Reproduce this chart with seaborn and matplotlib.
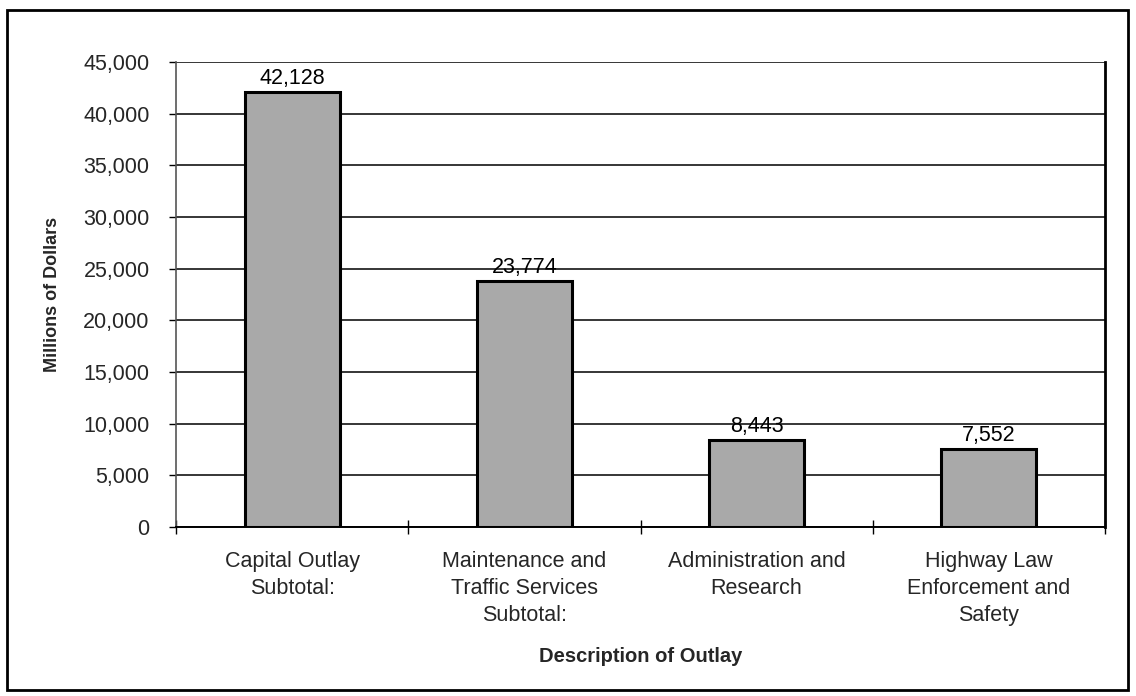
"""Highway outlay bar chart: four categories, millions of dollars."""

import matplotlib.pyplot as plt
from matplotlib.patches import Rectangle
from matplotlib.ticker import FuncFormatter, MultipleLocator
import pandas as pd
import seaborn as sns

# ── Data ─────────────────────────────────────────────────────────────
categorias = [
    "Capital Outlay\nSubtotal:",
    "Maintenance and\nTraffic Services\nSubtotal:",
    "Administration and\nResearch",
    "Highway Law\nEnforcement and\nSafety",
]
valores = [42128, 23774, 8443, 7552]
y_ticks = [0, 5000, 10000, 15000, 20000, 25000, 30000, 35000, 40000, 45000]

# ── Styling ──────────────────────────────────────────────────────────
_GRIS_BARRA = "#a9a9a9"
_LW_BARRA = 2.2
_LW_GRID = 1.1
_FS_TEXTO = 15.5

sns.set_theme(style="white")
plt.rcParams["font.family"] = ["Liberation Sans", "DejaVu Sans"]

df = pd.DataFrame({"categoria": categorias, "valor": valores})

fig = plt.figure(figsize=(11.36, 6.96), dpi=100)
ax = fig.add_axes([176 / 1136, 1 - 527 / 696, (1105 - 176) / 1136, (527 - 62) / 696])

sns.barplot(
    data=df,
    x="categoria",
    y="valor",
    color=_GRIS_BARRA,
    saturation=1,
    edgecolor="black",
    linewidth=_LW_BARRA,
    width=0.41,
    ax=ax,
    zorder=3,
)

# etiquetas de valor sobre cada barra
for bar, v in zip(ax.patches, valores):
    ax.text(
        bar.get_x() + bar.get_width() / 2,
        v + 300,
        f"{v:,}",
        ha="center",
        va="bottom",
        fontsize=_FS_TEXTO,
        color="black",
        zorder=4,
    )

ax.set_xlim(-0.5, len(categorias) - 0.5)
ax.set_ylim(0, y_ticks[-1])
ax.set_yticks(y_ticks)
ax.yaxis.set_major_formatter(FuncFormatter(lambda v, _: f"{int(v):,}"))
ax.yaxis.grid(True, color="black", linewidth=_LW_GRID, zorder=0)
ax.xaxis.grid(False)
ax.set_axisbelow(True)

# marcas de x entre categorías, cruzando el eje
ax.xaxis.set_minor_locator(MultipleLocator(1, offset=0.5))
ax.tick_params(axis="x", which="major", length=0, pad=17, labelsize=_FS_TEXTO)
ax.tick_params(axis="x", which="minor", direction="inout", length=10, width=1, color="black", bottom=True)
ax.tick_params(axis="y", which="major", direction="out", length=5, width=1, color="black", left=True, pad=14, labelsize=_FS_TEXTO)
for lbl in ax.get_xticklabels():
    lbl.set_linespacing(1.4)

ax.spines["top"].set_visible(False)
ax.spines["left"].set_color("#555555")
ax.spines["left"].set_linewidth(1.2)
ax.spines["bottom"].set_color("black")
ax.spines["bottom"].set_linewidth(1.4)
ax.spines["right"].set_color("black")
ax.spines["right"].set_linewidth(2.0)

ax.set_xlabel("Description of Outlay", fontsize=14.5, fontweight="bold", labelpad=0)
ax.xaxis.set_label_coords(0.5, (527 - 657) / (527 - 62), transform=ax.transAxes)
ax.set_ylabel("Millions of Dollars", fontsize=13, fontweight="bold")
ax.yaxis.set_label_coords((53 - 176) / (1105 - 176), 0.5, transform=ax.transAxes)
ax.xaxis.label.set_va("center")
ax.yaxis.label.set_va("center")

# marco exterior de la figura
fig.patches.append(
    Rectangle(
        (7 / 1136, 1 - 690 / 696),
        (1128 - 7) / 1136,
        (690 - 10) / 696,
        transform=fig.transFigure,
        fill=False,
        edgecolor="black",
        linewidth=2,
    )
)

fig.savefig("out.png", dpi=100, facecolor="white")
plt.close(fig)
